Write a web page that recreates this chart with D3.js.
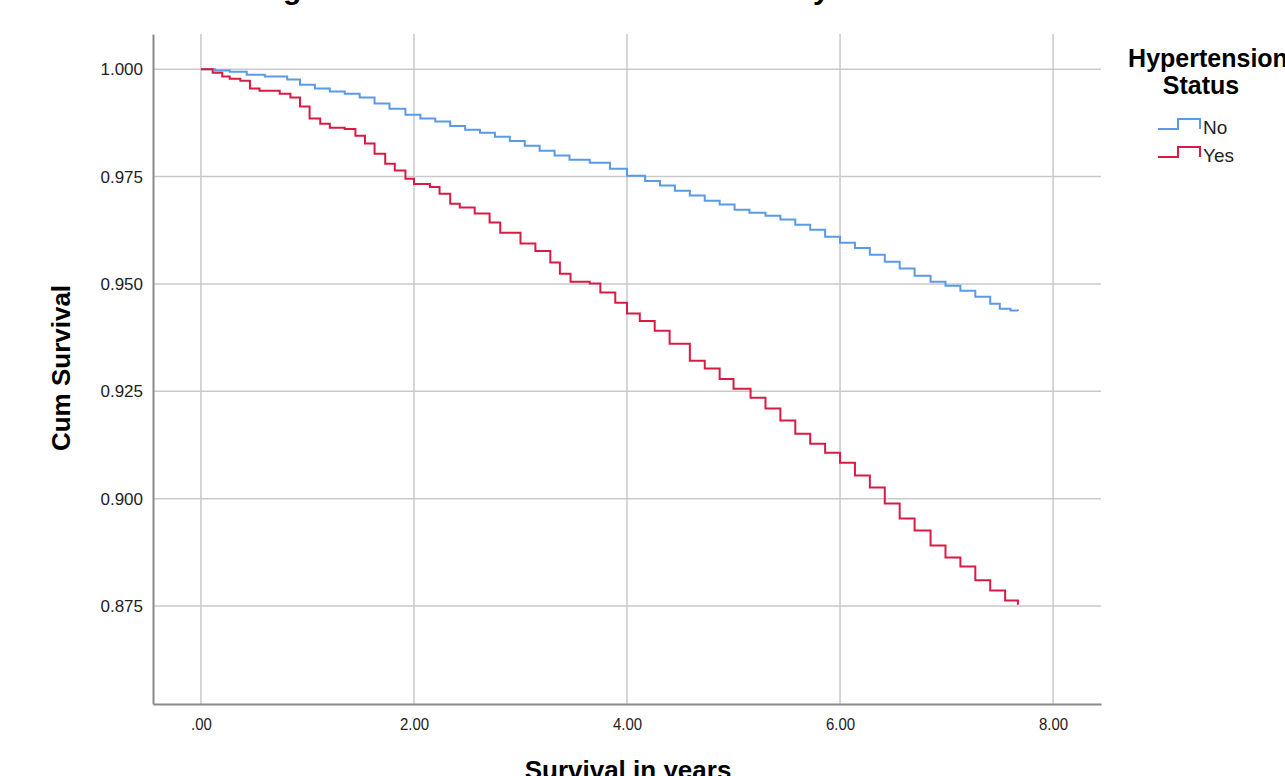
<!DOCTYPE html>
<html>
<head>
<meta charset="utf-8">
<script src="https://cdn.jsdelivr.net/npm/d3@7"></script>
<style>
  body { margin: 0; background: #fff; }
  svg { display: block; font-family: "Liberation Sans", Arial, sans-serif; }
</style>
</head>
<body>
<div class="chart"></div>
<script>
var svgWidth = 1285;
var svgHeight = 776;

// readings taken off the curves: [years, cumulative survival]
var groups = ["No", "Yes"];
var colors = ["#5b9ae6", "#d81b45"];
var noYears = [0, 0.13, 0.27, 0.43, 0.60, 0.81, 0.93, 1.07, 1.21, 1.35, 1.49, 1.63, 1.77, 1.92, 2.06, 2.20, 2.34, 2.48, 2.62, 2.76, 2.90, 3.04, 3.18, 3.32, 3.46, 3.65, 3.84, 4.00, 4.17, 4.31, 4.45, 4.59, 4.73, 4.87, 5.01, 5.15, 5.30, 5.44, 5.58, 5.72, 5.86, 6.00, 6.14, 6.28, 6.42, 6.56, 6.70, 6.85, 6.99, 7.13, 7.27, 7.41, 7.50, 7.60, 7.67];
var noSurv = [1.000, 0.9997, 0.9994, 0.9987, 0.9983, 0.9976, 0.9964, 0.9955, 0.9948, 0.9943, 0.9934, 0.9920, 0.9908, 0.9894, 0.9885, 0.9878, 0.9868, 0.9859, 0.9852, 0.9843, 0.9833, 0.9822, 0.9810, 0.9799, 0.9789, 0.9782, 0.9768, 0.9752, 0.9740, 0.9729, 0.9717, 0.9706, 0.9694, 0.9685, 0.9673, 0.9666, 0.9659, 0.9650, 0.9638, 0.9626, 0.9610, 0.9596, 0.9584, 0.9568, 0.9552, 0.9536, 0.9519, 0.9505, 0.9496, 0.9484, 0.9470, 0.9454, 0.9442, 0.9438, 0.9437];
var yesYears = [0, 0.11, 0.20, 0.27, 0.37, 0.46, 0.55, 0.74, 0.84, 0.93, 1.02, 1.12, 1.21, 1.35, 1.45, 1.54, 1.63, 1.73, 1.82, 1.92, 2.00, 2.15, 2.24, 2.34, 2.43, 2.57, 2.71, 2.81, 3.00, 3.14, 3.28, 3.37, 3.47, 3.65, 3.75, 3.89, 4.00, 4.12, 4.26, 4.40, 4.59, 4.73, 4.87, 5.00, 5.16, 5.30, 5.44, 5.58, 5.72, 5.86, 6.00, 6.14, 6.28, 6.42, 6.56, 6.70, 6.85, 6.99, 7.13, 7.27, 7.41, 7.55, 7.67];
var yesSurv = [1.000, 0.9992, 0.9983, 0.9978, 0.9973, 0.9955, 0.9950, 0.9943, 0.9934, 0.9913, 0.9885, 0.9873, 0.9864, 0.9861, 0.9845, 0.9827, 0.9803, 0.9780, 0.9764, 0.9745, 0.9733, 0.9726, 0.9710, 0.9687, 0.9678, 0.9664, 0.9643, 0.9619, 0.9594, 0.9577, 0.9550, 0.9524, 0.9505, 0.9501, 0.9480, 0.9456, 0.9431, 0.9414, 0.9391, 0.9361, 0.9321, 0.9303, 0.9279, 0.9256, 0.9235, 0.9210, 0.9182, 0.9151, 0.9128, 0.9107, 0.9084, 0.9054, 0.9026, 0.8989, 0.8954, 0.8926, 0.8891, 0.8863, 0.8842, 0.8810, 0.8786, 0.8763, 0.8753];

var xTicks = [0, 2, 4, 6, 8];
var yTicks = [0.875, 0.900, 0.925, 0.950, 0.975, 1.000];

var plot = {left: 153, right: 1101, top: 34, bottom: 704};

var svg = d3.select(".chart")
  .append("svg")
  .attr("width", svgWidth)
  .attr("height", svgHeight);

var x = d3.scaleLinear().domain([-0.45, 8.45]).range([plot.left, plot.right]);
var y = d3.scaleLinear().domain([0.8522, 1.0082]).range([plot.bottom, plot.top]);

// title, mostly above the visible area
svg.append("text")
  .attr("x", 593)
  .attr("y", -1)
  .attr("text-anchor", "middle")
  .style("font-size", "30px")
  .style("font-weight", "bold")
  .text("Figure 1. Cumulative Survival Curves by Status");

// grid
svg.append("g")
  .selectAll("line")
  .data(xTicks)
  .enter()
  .append("line")
  .attr("x1", d => x(d)).attr("x2", d => x(d))
  .attr("y1", plot.top).attr("y2", plot.bottom)
  .attr("stroke", "#c9c9c9")
  .attr("stroke-width", 1.5);

svg.append("g")
  .selectAll("line")
  .data(yTicks)
  .enter()
  .append("line")
  .attr("x1", plot.left).attr("x2", plot.right)
  .attr("y1", d => y(d)).attr("y2", d => y(d))
  .attr("stroke", "#c9c9c9")
  .attr("stroke-width", 1.5);

// axes
var bottomAxis = d3.axisBottom(x).tickValues(xTicks).tickSize(0).tickPadding(14)
  .tickFormat(d => d === 0 ? ".00" : d3.format(".2f")(d));
var leftAxis = d3.axisLeft(y).tickValues(yTicks).tickSize(0).tickPadding(10)
  .tickFormat(d3.format(".3f"));

var xAxis = svg.append("g")
  .attr("transform", `translate(0, ${plot.bottom})`)
  .call(bottomAxis);
xAxis.select(".domain").attr("stroke", "#8a8a8a").attr("stroke-width", 2);
xAxis.selectAll("text")
  .style("font-size", "17px")
  .attr("fill", "#222")
  .attr("lengthAdjust", "spacingAndGlyphs")
  .attr("textLength", function() { return this.getComputedTextLength() * 0.88; });

var yAxis = svg.append("g")
  .attr("transform", `translate(${plot.left}, 0)`)
  .call(leftAxis);
yAxis.select(".domain").attr("stroke", "#8a8a8a").attr("stroke-width", 2);
yAxis.selectAll("text")
  .style("font-size", "17px")
  .attr("fill", "#222");

// axis titles
svg.append("text")
  .attr("transform", "translate(70, 368) rotate(-90)")
  .attr("text-anchor", "middle")
  .style("font-size", "26px")
  .style("font-weight", "bold")
  .text("Cum Survival");

svg.append("text")
  .attr("x", 628)
  .attr("y", 779)
  .attr("text-anchor", "middle")
  .style("font-size", "26px")
  .style("font-weight", "bold")
  .text("Survival in years");

// curves
var series = [
  noYears.map((t, i) => ({t: t, s: noSurv[i]})),
  yesYears.map((t, i) => ({t: t, s: yesSurv[i]}))
];

var line = d3.line()
  .x(d => x(d.t))
  .y(d => y(d.s))
  .curve(d3.curveStepAfter);

svg.append("g")
  .selectAll("path")
  .data(series)
  .enter()
  .append("path")
  .attr("d", line)
  .attr("fill", "none")
  .attr("stroke", (d, i) => colors[i])
  .attr("stroke-width", 2);

// legend
var legend = svg.append("g");
legend.append("text")
  .attr("x", 1208).attr("y", 67)
  .attr("text-anchor", "middle")
  .style("font-size", "25px")
  .style("font-weight", "bold")
  .text("Hypertension");
legend.append("text")
  .attr("x", 1201).attr("y", 94)
  .attr("text-anchor", "middle")
  .style("font-size", "25px")
  .style("font-weight", "bold")
  .text("Status");

var items = legend.selectAll(".item")
  .data(groups)
  .enter()
  .append("g")
  .attr("transform", (d, i) => `translate(1158, ${129 + i * 28})`);

items.append("path")
  .attr("d", "M0,0 H20 V-10 H42 V0")
  .attr("fill", "none")
  .attr("stroke", (d, i) => colors[i])
  .attr("stroke-width", 2);

items.append("text")
  .attr("x", 45).attr("y", 5)
  .style("font-size", "19px")
  .attr("fill", "#222")
  .attr("lengthAdjust", "spacingAndGlyphs")
  .attr("textLength", function() { return this.getComputedTextLength() * 0.92; })
  .text(d => d);
</script>
</body>
</html>
